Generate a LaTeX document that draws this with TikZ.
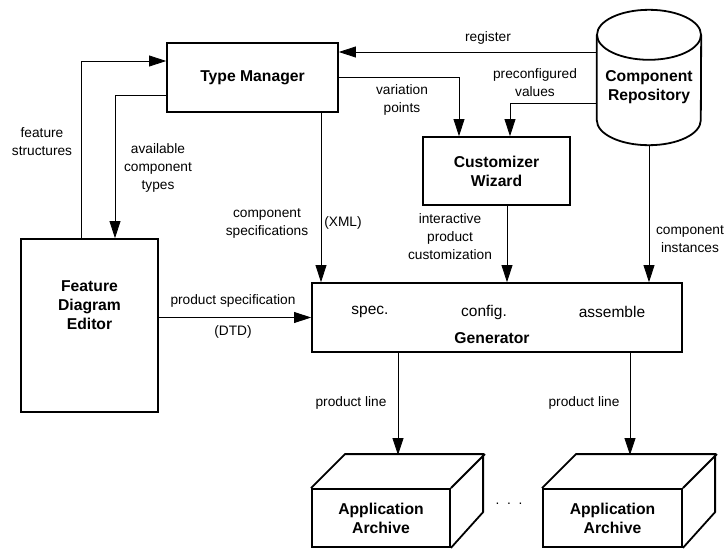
\documentclass[tikz,border=0pt]{standalone}
\usepackage{fontspec}
\setmainfont{Liberation Sans}
\usetikzlibrary{shapes.geometric, arrows.meta}

\begin{document}
\begin{tikzpicture}[x=1pt, y=-1pt]
        \tikzstyle{proc} = [rectangle, line width=1.8pt, draw=black, line join=miter, inner sep=0pt, align=center, font=\fontsize{15.7}{19}\selectfont\bfseries]
        \tikzstyle{txt} = [inner sep=0pt, align=center, font=\fontsize{15.7}{19}\selectfont\bfseries]
        \tikzstyle{lbl} = [inner sep=0pt, align=center, font=\fontsize{13.7}{18}\selectfont]
        \tikzstyle{part} = [inner sep=0pt, font=\fontsize{15.5}{19}\selectfont]
        \tikzstyle{arrow} = [line width=0.8pt, -{Triangle[length=17pt, width=11pt]}]
        \useasboundingbox (0, 0) rectangle (724, 549);
        \node [proc, minimum width=171, minimum height=69] (1) at (252.5, 77.5) {Type Manager};
	 \node [proc, minimum width=137, minimum height=173] (2) at (89.5, 325.5) {};
	 \node [txt] (2t) at (89.5, 305) {Feature\\Diagram\\Editor};
	 \node [proc, minimum width=147, minimum height=68] (4) at (496.5, 171) {Customizer\\Wizard};
	 \node [minimum width=104, minimum height=85, inner sep=0pt] (5) at (649, 77.5) {};
	 \draw [line width=1.8pt] (5.north west) -- (5.south west) arc [start angle=180, end angle=0, x radius=52, y radius=25] -- (5.north east);
	 \draw [line width=1.8pt] (5.north) ellipse [x radius=52, y radius=25];
	 \node [txt] (5t) at (649, 87.5) {Component\\Repository};
	 \node [proc, minimum width=370, minimum height=69] (6) at (497, 317.5) {};
	 \node [part] (6a) at (370, 312) {spec.};
	 \node [part] (6b) at (484, 312) {config.};
	 \node [part] (6c) at (612, 312) {assemble};
	 \node [txt] (6d) at (492, 338) {Generator};
	 \node [proc, minimum width=138, minimum height=58] (7) at (381, 518) {Application\\Archive};
	 \draw [line width=1.8pt, line join=miter] (7.north west) -- ++(34, -34) -- ++(138, 0) -- ++(0, 58) -- (7.south east) (7.north east) -- ++(34, -34);
	 \node [proc, minimum width=139, minimum height=58] (8) at (612.5, 518) {Application\\Archive};
	 \draw [line width=1.8pt, line join=miter] (8.north west) -- ++(34, -34) -- ++(139, 0) -- ++(0, 58) -- (8.south east) (8.north east) -- ++(34, -34);
	 \node [lbl] (9) at (509, 504) {.\ \ .\ \ .};
	 \coordinate (7b) at (398, 455);
	 \coordinate (8b) at (630, 455);
     \draw[arrow] (2.north -| 81,0) |- (1.west |- 0,61);
     \draw[arrow] (1.west |- 0,95) -| (2.north -| 115,0);
     \draw[arrow] (5.west |- 0,52) -- (1.east |- 0,52);
     \draw[arrow] (1.east) -| (4.north -| 459,0);
     \draw[arrow] (5.west |- 0,103) -| (4.north -| 510,0);
     \draw[arrow] (1.south -| 321,0) -- (6.north -| 321,0);
     \draw[arrow] (4.south -| 507,0) -- (6.north -| 507,0);
     \draw[arrow] (5.south |- 0,145) -- (6.north -| 5.south);
     \draw[arrow] (2.east |- 6.west) -- (6.west);
     \draw[arrow] (6.south -| 7b) -- (7b);
     \draw[arrow] (6.south -| 8b) -- (8b);
	 \node [lbl] (l1) at (42, 142) {feature\\structures};
	 \node [lbl] (l2) at (158, 168) {available\\component\\types};
	 \node [lbl] (l3) at (267, 223) {component\\specifications};
	 \node [lbl] (l4) at (343, 223) {(XML)};
	 \node [lbl] (l5) at (488, 38) {register};
	 \node [lbl] (l6) at (402, 100) {variation\\points};
	 \node [lbl] (l7) at (535, 83) {preconfigured\\values};
	 \node [lbl] (l8) at (450, 237) {interactive\\product\\customization};
	 \node [lbl] (l9) at (690, 239) {component\\instances};
	 \node [lbl] (l10) at (233, 301) {product specification};
	 \node [lbl] (l11) at (233, 332) {(DTD)};
	 \node [lbl] (l12) at (351, 403) {product line};
	 \node [lbl] (l13) at (584, 403) {product line};
    \end{tikzpicture}
\end{document}
